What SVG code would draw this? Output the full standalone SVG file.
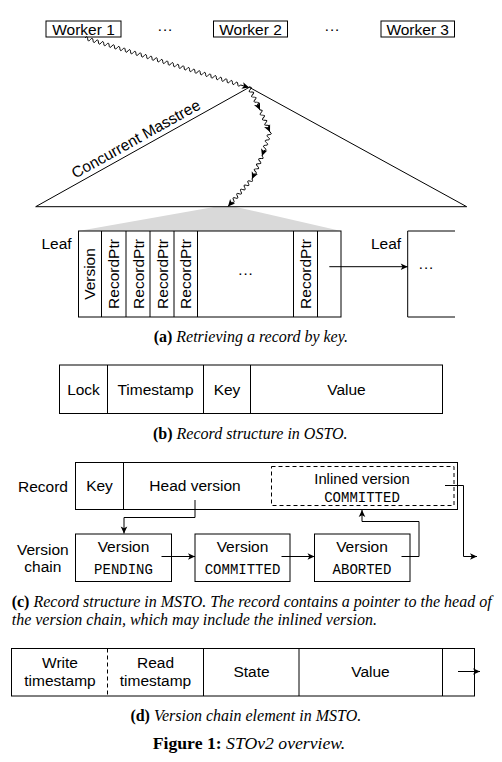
<svg xmlns="http://www.w3.org/2000/svg" width="502" height="762" viewBox="0 0 502 762">
<style>
.bx{fill:none;stroke:#000;stroke-width:1}
.ln{fill:none;stroke:#000;stroke-width:1}
.wv{fill:none;stroke:#000;stroke-width:0.9}
.dash{stroke-dasharray:4 3}
.t{font-family:"Liberation Sans",Arial,sans-serif;font-size:15.5px;fill:#000}
.m{font-family:"Liberation Mono","Courier New",monospace;font-size:14px;fill:#000}
.cap{font-family:"Liberation Serif","Times New Roman",serif;font-size:16px;fill:#000}
.c{text-anchor:middle}
.b{font-weight:bold}
.i{font-style:italic}
</style>
<defs>
<marker id="ah" markerUnits="userSpaceOnUse" markerWidth="9" markerHeight="9" viewBox="-8 -4.5 9 9" refX="0" refY="0" orient="auto">
<path d="M0,0 L-7,-3.3 L-5.2,0 L-7,3.3 Z" fill="#000"/>
</marker>
</defs>
<rect width="502" height="762" fill="#fff"/>

<g id="workers">
<g id="worker1"><rect class="bx" x="46" y="21" width="75" height="16"/><text class="t c" x="83.5" y="34.5">Worker 1</text></g>
<g id="dots1"><text class="t c" x="165" y="33.5">···</text></g>
<g id="worker2"><rect class="bx" x="213.5" y="21" width="74" height="16"/><text class="t c" x="250.5" y="34.5">Worker 2</text></g>
<g id="dots2"><text class="t c" x="332" y="33.5">···</text></g>
<g id="worker3"><rect class="bx" x="381" y="21" width="73.5" height="16"/><text class="t c" x="417.7" y="34.5">Worker 3</text></g>
</g>

<g id="masstree">
<polygon points="214,207 236,207 341,231 78.5,231" fill="#d9d9d9"/>
<polygon class="ln" points="35.7,206.7 249.3,87.3 466.7,206.7"/>
<text class="t c" transform="translate(138.5,143.5) rotate(-29.2)">Concurrent Masstree</text>
</g>

<g id="leaf1">
<text class="t" x="41.5" y="249">Leaf</text>
<rect class="bx" x="78.5" y="231" width="262.5" height="86"/>
<path class="ln" d="M101.5,231V317M126,231V317M150,231V317M174,231V317M197.5,231V317M293.5,231V317M317.5,231V317"/>
<text class="t c" transform="translate(95,274) rotate(-90)">Version</text>
<text class="t c" transform="translate(119.3,274) rotate(-90)">RecordPtr</text>
<text class="t c" transform="translate(143.5,274) rotate(-90)">RecordPtr</text>
<text class="t c" transform="translate(167.5,274) rotate(-90)">RecordPtr</text>
<text class="t c" transform="translate(191.3,274) rotate(-90)">RecordPtr</text>
<text class="t c" transform="translate(310.8,274) rotate(-90)">RecordPtr</text>
<text class="t c" x="245.5" y="278">···</text>
</g>

<g id="leaf2">
<text class="t" x="371" y="249">Leaf</text>
<path class="ln" d="M455,231H407.7V317H455"/>
<text class="t c" x="426" y="272">···</text>
</g>

<g id="caption-a"><text class="cap c" x="250.8" y="342"><tspan class="b">(a) </tspan><tspan class="i">Retrieving a record by key.</tspan></text></g>

<g id="record-osto">
<rect class="bx" x="59.5" y="365" width="383" height="48.5"/>
<path class="ln" d="M107.5,365V413.5M203.5,365V413.5M250.5,365V413.5"/>
<text class="t c" x="83.5" y="394.5">Lock</text>
<text class="t c" x="155.5" y="394.5">Timestamp</text>
<text class="t c" x="227" y="394.5">Key</text>
<text class="t c" x="346.5" y="394.5">Value</text>
</g>

<g id="caption-b"><text class="cap c" x="250.3" y="439"><tspan class="b">(b) </tspan><tspan class="i">Record structure in OSTO.</tspan></text></g>

<g id="record-msto">
<text class="t" x="18" y="491.5">Record</text>
<rect class="bx" x="75.5" y="462.5" width="382" height="47"/>
<path class="ln" d="M123.5,462.5V509.5"/>
<text class="t c" x="99.5" y="491">Key</text>
<text class="t c" x="195" y="491">Head version</text>
<g id="inlined-version">
<rect class="bx dash" x="271.5" y="466.5" width="182.5" height="39"/>
<text class="t c" x="362" y="483.5" style="font-size:14.8px">Inlined version</text>
<text class="m c" x="362" y="501.5">COMMITTED</text>
</g>
</g>

<g id="version-chain-label">
<text class="t c" x="42.8" y="555">Version</text>
<text class="t c" x="42.8" y="572">chain</text>
</g>
<g id="version-pending">
<rect class="bx" x="75.5" y="534" width="96" height="47.5"/>
<text class="t c" x="123.5" y="551.5">Version</text>
<text class="m c" x="123.5" y="574">PENDING</text>
</g>
<g id="version-committed">
<rect class="bx" x="195" y="534" width="95" height="47.5"/>
<text class="t c" x="242.5" y="551.5">Version</text>
<text class="m c" x="242.5" y="574">COMMITTED</text>
</g>
<g id="version-aborted">
<rect class="bx" x="314.5" y="534" width="95.5" height="47.5"/>
<text class="t c" x="362" y="551.5">Version</text>
<text class="m c" x="362" y="574">ABORTED</text>
</g>

<g id="caption-c">
<text class="cap" x="11.7" y="607"><tspan class="b">(c) </tspan><tspan class="i">Record structure in MSTO. The record contains a pointer to the head of</tspan></text>
<text class="cap i" x="11.7" y="625">the version chain, which may include the inlined version.</text>
</g>

<g id="version-element">
<rect class="bx" x="11.5" y="648.5" width="463" height="47.5"/>
<path class="ln dash" d="M107.5,648.5V696"/>
<path class="ln" d="M203.5,648.5V696M299,648.5V696M442.5,648.5V696"/>
<text class="t c" x="60" y="667.5">Write</text>
<text class="t c" x="60" y="685.5">timestamp</text>
<text class="t c" x="155.5" y="667.5">Read</text>
<text class="t c" x="155.5" y="685.5">timestamp</text>
<text class="t c" x="251.5" y="677">State</text>
<text class="t c" x="370.5" y="677">Value</text>
</g>

<g id="caption-d"><text class="cap c" x="245.8" y="721"><tspan class="b">(d) </tspan><tspan class="i">Version chain element in MSTO.</tspan></text></g>
<g id="figure-caption"><text class="cap c" x="249" y="749" style="font-size:17.7px"><tspan class="b">Figure 1: </tspan><tspan class="i">STOv2 overview.</tspan></text></g>

<g id="connectors">
<g transform="translate(85,38) rotate(16.8)"><path class="wv" marker-end="url(#ah)" d="M0,0q1.4,-3.6 2.8,0t2.8,0t2.8,0t2.8,0t2.8,0t2.8,0t2.8,0t2.8,0t2.8,0t2.8,0t2.8,0t2.8,0t2.8,0t2.8,0t2.8,0t2.8,0t2.8,0t2.8,0t2.8,0t2.8,0t2.8,0t2.8,0t2.8,0t2.8,0t2.8,0t2.8,0t2.8,0t2.8,0t2.8,0t2.8,0t2.8,0t2.8,0t2.8,0t2.8,0t2.8,0t2.8,0t2.8,0t2.8,0t2.8,0t2.8,0t2.8,0t2.8,0t2.8,0t2.8,0t2.8,0t2.8,0t2.8,0t2.8,0t2.8,0t2.8,0t2.8,0t2.8,0t2.8,0t2.8,0t2.8,0t2.8,0t2.8,0t2.8,0L171.3,0"/></g>
<g transform="translate(249,87) rotate(64.4)"><path class="wv" marker-end="url(#ah)" d="M0,0q1.4,-3.6 2.8,0t2.8,0t2.8,0t2.8,0t2.8,0t2.8,0t2.8,0L25.5,0"/></g>
<g transform="translate(260,110) rotate(65.6)"><path class="wv" marker-end="url(#ah)" d="M0,0q1.4,-3.6 2.8,0t2.8,0t2.8,0t2.8,0t2.8,0t2.8,0t2.8,0L24.2,0"/></g>
<g transform="translate(270,132) rotate(108.4)"><path class="wv" marker-end="url(#ah)" d="M0,0q1.4,-3.6 2.8,0t2.8,0t2.8,0t2.8,0t2.8,0t2.8,0t2.8,0L25.3,0"/></g>
<g transform="translate(262,156) rotate(113.5)"><path class="wv" marker-end="url(#ah)" d="M0,0q1.4,-3.6 2.8,0t2.8,0t2.8,0t2.8,0t2.8,0t2.8,0t2.8,0L25.1,0"/></g>
<g transform="translate(252,179) rotate(131.1)"><path class="wv" marker-end="url(#ah)" d="M0,0q1.4,-3.6 2.8,0t2.8,0t2.8,0t2.8,0t2.8,0t2.8,0t2.8,0t2.8,0t2.8,0t2.8,0t2.8,0L36.5,0"/></g>
<path class="ln" marker-end="url(#ah)" d="M329.3,266.7H407.7"/>
<path class="ln" marker-end="url(#ah)" d="M195,500V517.5H124V533.5"/>
<path class="ln" marker-end="url(#ah)" d="M161.5,556.5H195"/>
<path class="ln" marker-end="url(#ah)" d="M281.5,556.5H314.5"/>
<path class="ln" marker-end="url(#ah)" d="M401.5,556.5H419V521.5H362V510"/>
<path class="ln" marker-end="url(#ah)" d="M445,485.5H463.5V556.5H477"/>
<path class="ln" marker-end="url(#ah)" d="M458,671.5H480"/>
</g>
</svg>
